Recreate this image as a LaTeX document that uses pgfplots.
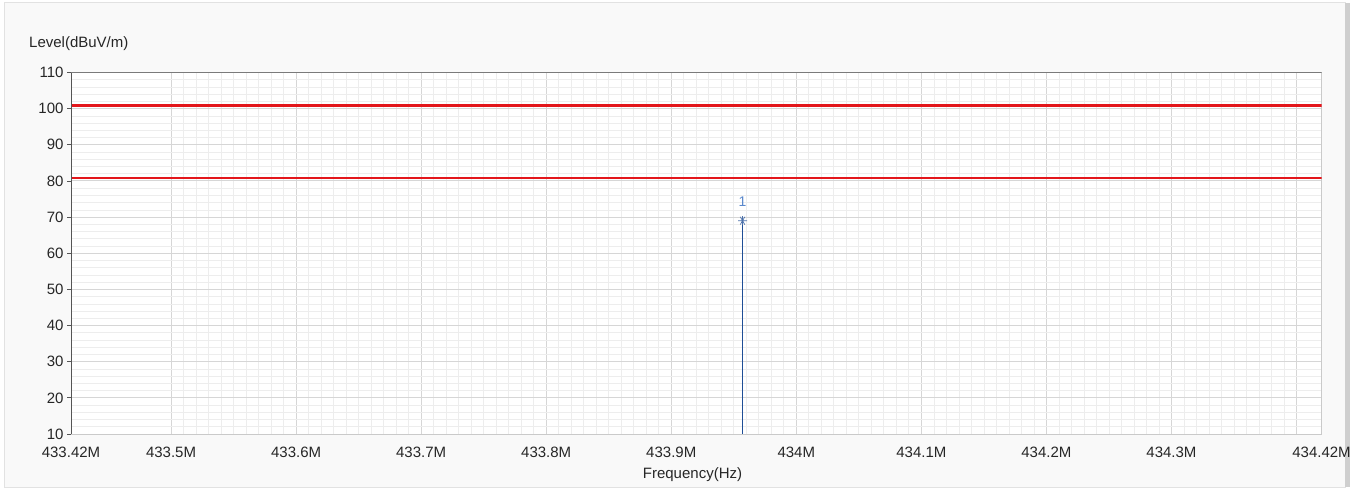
\documentclass[border=0pt]{standalone}
\usepackage{fontspec}
\setmainfont{Liberation Sans}
\usepackage{pgfplots}
\pgfplotsset{compat=1.18}

\definecolor{panelbg}{HTML}{F9F9F9}
\definecolor{framegray}{HTML}{E2E2E2}
\definecolor{shadowgray}{HTML}{CFCFCF}
\definecolor{gridmajor}{HTML}{D6D6D6}
\definecolor{gridminor}{HTML}{EDEDED}
\definecolor{axdark}{HTML}{555555}
\definecolor{axmid}{HTML}{7A7A7A}
\definecolor{axlight}{HTML}{CACACA}
\definecolor{txtgray}{HTML}{262626}
\definecolor{limitred}{HTML}{E3161B}
\definecolor{spikeblue}{HTML}{1F4E96}
\definecolor{labelblue}{HTML}{5A88CC}

\begin{document}
\begin{tikzpicture}[font=\fontsize{15bp}{18bp}\selectfont]
% window panel behind the chart
\fill[white] (-71bp,-54bp) rectangle (1289bp,434bp);
\fill[panelbg, draw=framegray, line width=1bp] (-66bp,-53bp) rectangle (1274bp,431bp);
\fill[shadowgray] (1274bp,-53bp) rectangle (1279bp,431bp);

\begin{axis}[
  name=spec,
  scale only axis,
  width=1250.5bp, height=361.5bp,
  xmin=433.42, xmax=434.42,
  ymin=10, ymax=110,
  axis background/.style={fill=white},
  axis line style={draw=axlight, line width=0.8bp},
  grid=both,
  major grid style={draw=gridmajor, line width=0.9bp},
  minor grid style={draw=gridminor, line width=0.7bp},
  xtick={433.5,433.6,433.7,433.8,433.9,434,434.1,434.2,434.3,434.4},
  xticklabels={433.5M,433.6M,433.7M,433.8M,433.9M,434M,434.1M,434.2M,434.3M,},
  extra x ticks={433.42,434.42},
  extra x tick labels={433.42M,434.42M},
  extra x tick style={grid=none},
  minor x tick num=9,
  ytick={10,20,30,40,50,60,70,80,90,100,110},
  minor y tick num=4,
  tick pos=left,
  tick align=outside,
  major tick length=4bp,
  minor tick length=0pt,
  xtick style={draw=none},
  ytick style={draw=axdark, line width=0.8bp},
  minor tick style={draw=none},
  ticklabel style={font=\fontsize{15bp}{18bp}\selectfont, text=txtgray},
  /pgf/number format/assume math mode=true,
  xticklabel style={anchor=base, yshift=-19bp},
  yticklabel style={anchor=east},
  xlabel={Frequency(Hz)},
  xlabel style={at={(rel axis cs:0.497,0)}, anchor=base, yshift=-44bp,
                inner sep=0pt, text=txtgray},
  clip=true,
]
% limit lines
\addplot[limitred, line width=2.8bp] coordinates {(433.42,100.8) (434.42,100.8)};
\addplot[limitred, line width=2.8bp] coordinates {(433.42,80.8) (434.42,80.8)};

% emission spike
\addplot[spikeblue, line width=1.3bp, ycomb, mark=none] coordinates {(433.957,69.0)};
\addplot[only marks, mark=asterisk, mark size=4.5bp, spikeblue!80,
         mark options={rotate=90, line width=0.7bp},
         point meta=explicit symbolic,
         nodes near coords,
         every node near coord/.append style={anchor=base, yshift=14bp,
           text=labelblue, font=\fontsize{14bp}{17bp}\selectfont}]
  coordinates {(433.957,69.0) [1]};
\addplot[only marks, mark=|, mark size=4.5bp, spikeblue!80,
         mark options={line width=0.7bp}] coordinates {(433.957,69.0)};

% darker left and top frame lines
\draw[axdark, line width=1.3bp] (rel axis cs:0,0) -- (rel axis cs:0,1);
\draw[axmid, line width=1bp] (rel axis cs:0,1) -- (rel axis cs:1,1);
\end{axis}

\node[anchor=base west, inner sep=0pt, text=txtgray]
  at ([xshift=-42bp, yshift=25bp]spec.north west) {Level(dBuV/m)};
\end{tikzpicture}
\end{document}
